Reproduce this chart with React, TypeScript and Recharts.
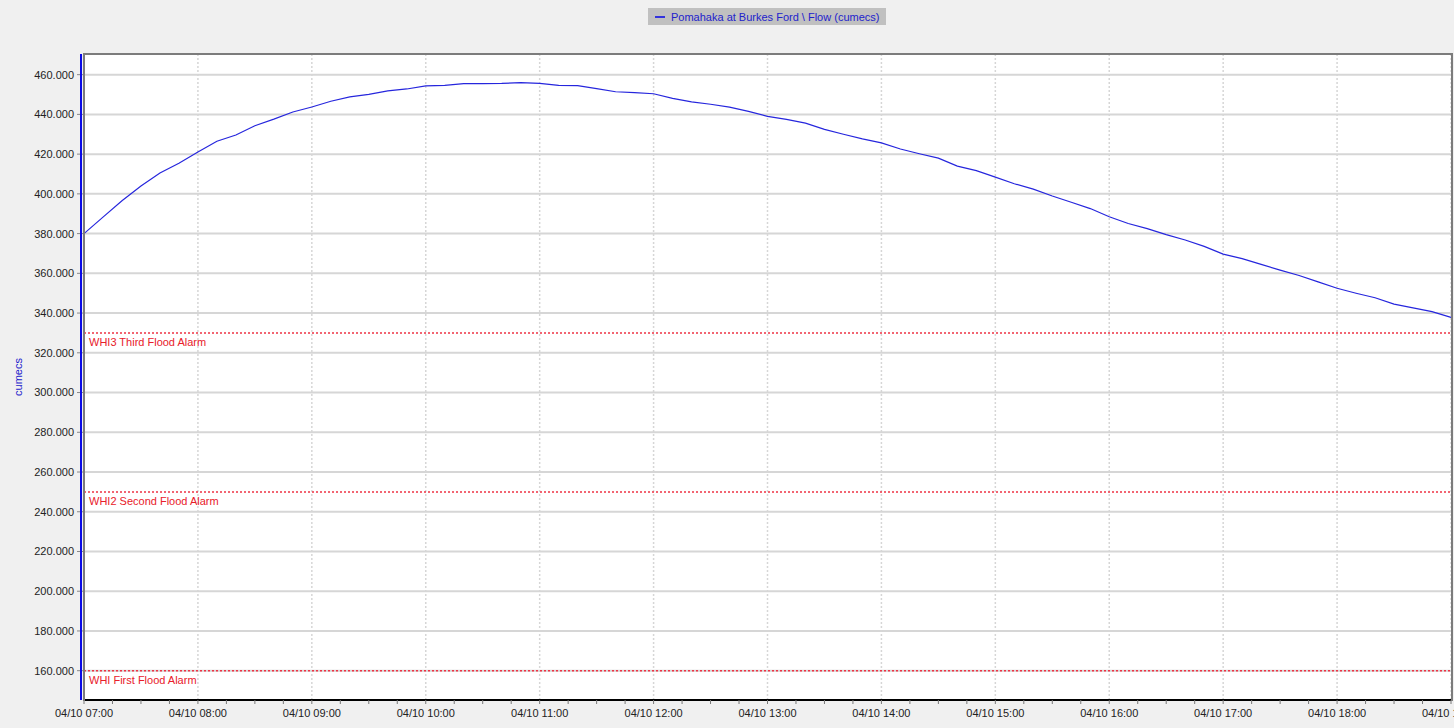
import { LineChart, Line, XAxis, YAxis, CartesianGrid, ReferenceLine } from 'recharts'

// flow readings, one every 10 minutes from 04/10 07:00 to 19:00
const flow = [
  380.0, 388.3, 396.5, 404.0, 410.5, 415.4, 421.1, 426.5, 429.6, 434.3, 437.6, 441.2,
  443.7, 446.6, 448.8, 450.1, 451.8, 452.8, 454.4, 454.6, 455.5, 455.5, 455.6, 456.0,
  455.6, 454.6, 454.5, 453.0, 451.4, 451.0, 450.4, 448.1, 446.3, 445.1, 443.7, 441.5,
  439.0, 437.5, 435.6, 432.5, 430.0, 427.7, 425.7, 422.6, 420.2, 418.0, 414.0, 411.7,
  408.4, 405.1, 402.4, 398.9, 395.8, 392.6, 388.5, 385.1, 382.5, 379.5, 376.8, 373.6,
  369.7, 367.4, 364.5, 361.6, 358.9, 355.7, 352.5, 350.0, 347.7, 344.5, 342.6, 340.7,
  337.8,
]
const minutes = flow.map((_, i) => i * 10)

const hourTicks = [0, 60, 120, 180, 240, 300, 360, 420, 480, 540, 600, 660, 720]
const hourLabels = [
  '04/10 07:00', '04/10 08:00', '04/10 09:00', '04/10 10:00', '04/10 11:00', '04/10 12:00',
  '04/10 13:00', '04/10 14:00', '04/10 15:00', '04/10 16:00', '04/10 17:00', '04/10 18:00',
  '04/10 19:00',
]
const quarterTicks = Array.from({ length: 49 }, (_, i) => i * 15)

const yTicks = [160, 180, 200, 220, 240, 260, 280, 300, 320, 340, 360, 380, 400, 420, 440, 460]

const alarmLevels = [330, 250, 160]
const alarmNames = ['WHI3 Third Flood Alarm', 'WHI2 Second Flood Alarm', 'WHI First Flood Alarm']

const seriesName = 'Pomahaka at Burkes Ford \\ Flow (cumecs)'

const FONT = '"Liberation Sans", Arial, sans-serif'

const data = minutes.map((m, i) => ({ minute: m, flow: flow[i] }))

function HourTick(props: any) {
  const { x, y, payload } = props
  const idx = hourTicks.indexOf(payload.value)
  if (idx < 0) return <g />
  return (
    <text x={x} y={y} dy="0.71em" textAnchor="middle" fontSize={11} fontFamily={FONT} fill="#222">
      {hourLabels[idx]}
    </text>
  )
}

function LegendBox() {
  return (
    <div
      style={{
        position: 'absolute',
        left: 648,
        top: 8,
        width: 238,
        height: 17,
        boxSizing: 'border-box',
        display: 'flex',
        alignItems: 'center',
        background: '#c0c0c0',
        paddingLeft: 7,
        fontFamily: FONT,
        fontSize: 11,
        color: '#2222cc',
        whiteSpace: 'nowrap',
      }}
    >
      <span style={{ display: 'inline-block', width: 10, height: 2, background: '#3333dd', marginRight: 6 }} />
      {seriesName}
    </div>
  )
}

export default function App() {
  return (
    <div style={{ position: 'absolute', left: 0, top: 0, width: 1454, height: 728, background: '#f0f0f0', overflow: 'hidden' }}>
      <LineChart width={1454} height={728} data={data} margin={{ top: 54, right: 3, bottom: 0, left: 0 }}>
        <CartesianGrid fill="#fff" vertical={false} stroke="#d6d6d6" strokeWidth={2} />
        <CartesianGrid horizontal={false} verticalValues={hourTicks} stroke="#d6d6d6" strokeDasharray="2 2" strokeWidth={1.5} />
        <XAxis
          dataKey="minute"
          type="number"
          domain={[0, 720]}
          ticks={quarterTicks}
          interval={0}
          tick={<HourTick />}
          tickSize={4}
          tickMargin={5}
          axisLine={{ stroke: '#000', strokeWidth: 2 }}
          tickLine={{ stroke: '#777' }}
          height={28}
        />
        <YAxis
          type="number"
          domain={[145.25, 470.4]}
          ticks={yTicks}
          interval={0}
          width={84}
          tickSize={7}
          tickMargin={3}
          axisLine={false}
          tickLine={{ stroke: '#888' }}
          tick={{ fontSize: 11, fontFamily: FONT, fill: '#222' }}
          tickFormatter={(v: number) => v.toFixed(3)}
          label={{
            content: ({ viewBox }: any) => {
              const cy = viewBox.y + viewBox.height / 2
              return (
                <text x={18} y={cy} transform={`rotate(-90, 18, ${cy})`} textAnchor="middle" dominantBaseline="central" fontSize={11} fontFamily={FONT} fill="#2222cc">
                  cumecs
                </text>
              )
            },
          }}
        />
        {alarmLevels.map((lvl, i) => (
          <ReferenceLine
            key={lvl}
            y={lvl}
            stroke="#ee3344"
            strokeDasharray="2 2"
            strokeWidth={1.5}
            label={{ value: alarmNames[i], position: 'insideTopLeft', offset: 5, fill: '#e8202a', fontSize: 11, fontFamily: FONT }}
          />
        ))}
        <Line
          type="linear"
          dataKey="flow"
          name={seriesName}
          stroke="#2626dd"
          strokeWidth={1.2}
          dot={false}
          isAnimationActive={false}
        />
      </LineChart>
      <LegendBox />
      <div style={{ position: 'absolute', left: 83, top: 53, width: 1366, height: 646, borderTop: '2px solid #7c7c7c', borderLeft: '2px solid #7c7c7c', borderRight: '2px solid #7c7c7c', pointerEvents: 'none' }} />
      <div style={{ position: 'absolute', left: 80, top: 54, width: 2, height: 646, background: '#0a0ae6', pointerEvents: 'none' }} />
    </div>
  )
}
